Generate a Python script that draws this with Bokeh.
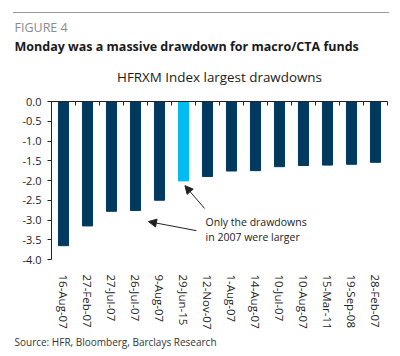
from bokeh.plotting import figure
from bokeh.layouts import column
from bokeh.models import (Range1d, LinearAxis, FixedTicker, NumeralTickFormatter,
                          Label, Arrow, NormalHead, ColumnDataSource, Title, Div)
from bokeh.embed import file_html
from bokeh.resources import INLINE

dates = ["16-Aug-07", "27-Feb-07", "27-Jul-07", "26-Jul-07", "9-Aug-07", "29-Jun-15", "12-Nov-07",
         "1-Aug-07", "14-Aug-07", "10-Jul-07", "10-Aug-07", "15-Mar-11", "19-Sep-08", "28-Feb-07"]
drawdowns = [-3.65, -3.15, -2.78, -2.76, -2.50, -2.01, -1.90, -1.76, -1.75, -1.65, -1.62, -1.61, -1.59, -1.54]
highlight = "29-Jun-15"
y_ticks = [-4.0, -3.5, -3.0, -2.5, -2.0, -1.5, -1.0, -0.5, 0.0]

DARK = "#013A5E"
LIGHT = "#00BCF2"
FONT = "Open Sans"
W = 400

# thin grey rule at the very top
rule = Div(text="", width=376, height=1, margin=(12, 11, 0, 13),
           styles={"background-color": "#9a9a9a"})

n = len(dates)
centers = [i + 0.5 for i in range(n)]
colors = [LIGHT if d == highlight else DARK for d in dates]
src = ColumnDataSource(dict(x=centers, top=drawdowns, color=colors, date=dates))

p = figure(width=W, height=343, output_backend="svg", toolbar_location=None,
           x_range=Range1d(0, n), y_range=Range1d(-4.0, 0.0),
           min_border_left=51, min_border_right=13, min_border_top=88, min_border_bottom=97)
p.outline_line_color = None
p.grid.visible = False

p.vbar(x="x", top="top", bottom=0, width=0.42, color="color", source=src)

xa = p.xaxis[0]
xa.ticker = FixedTicker(ticks=centers)
xa.major_label_overrides = {c: d for c, d in zip(centers, dates)}
xa.axis_line_color = None
xa.major_tick_line_color = None
xa.minor_tick_line_color = None
xa.major_label_orientation = "vertical"
xa.major_label_standoff = 9
xa.major_label_text_font = FONT
xa.major_label_text_font_size = "11.5px"
xa.major_label_text_color = "#222222"

ya = p.yaxis[0]
ya.ticker = FixedTicker(ticks=y_ticks)
ya.formatter = NumeralTickFormatter(format="0.0")
ya.major_tick_out = 4
ya.major_tick_in = 0
ya.minor_tick_line_color = None
ya.axis_line_color = "#222222"
ya.major_tick_line_color = "#222222"
ya.major_label_standoff = 6
ya.major_label_text_font = FONT
ya.major_label_text_font_size = "11px"
ya.major_label_text_color = "#222222"

edges = list(range(n + 1))
top_axis = LinearAxis(ticker=FixedTicker(ticks=edges),
                      major_label_overrides={e: "" for e in edges})
top_axis.major_tick_in = 4
top_axis.major_tick_out = 0
top_axis.major_label_standoff = 0
top_axis.minor_tick_line_color = None
top_axis.axis_line_color = "#222222"
top_axis.major_tick_line_color = "#222222"
top_axis.major_label_text_font_size = "1px"
p.add_layout(top_axis, "above")

# header titles (first added sits closest to the plot)
p.add_layout(Title(text="HFRXM Index largest drawdowns", align="center", offset=-23,
                   vertical_align="top", text_font=FONT, text_font_size="13.4px",
                   text_font_style="normal", text_color="#1a1a1a", standoff=26.5), "above")
p.add_layout(Title(text="Monday was a massive drawdown for macro/CTA funds", align="left",
                   offset=-37, text_font=FONT, text_font_size="12.5px", text_font_style="bold",
                   text_color="#1a1a1a", standoff=0), "above")
p.add_layout(Title(text="FIGURE 4", align="left", offset=-37, text_font=FONT,
                   text_font_size="12.5px", text_font_style="normal", text_color="#8a8a8a",
                   standoff=0), "above")
p.add_layout(Title(text="Source: HFR, Bloomberg, Barclays Research", align="left", offset=-37,
                   text_font=FONT, text_font_size="10px", text_font_style="normal",
                   text_color="#333333", standoff=0), "below")

p.add_layout(Label(x=6.42, y=-3.04, text="Only the drawdowns", text_font=FONT,
                   text_font_size="10.5px", text_color="#222222", text_baseline="middle"))
p.add_layout(Label(x=6.42, y=-3.42, text="in 2007 were larger", text_font=FONT,
                   text_font_size="10.5px", text_color="#222222", text_baseline="middle"))
p.add_layout(Arrow(x_start=6.38, y_start=-2.71, x_end=5.56, y_end=-2.13,
                   line_color="#222222", line_width=1,
                   end=NormalHead(size=8, fill_color="#222222", line_color="#222222")))
p.add_layout(Arrow(x_start=6.04, y_start=-3.27, x_end=4.04, y_end=-3.04,
                   line_color="#222222", line_width=1,
                   end=NormalHead(size=8, fill_color="#222222", line_color="#222222")))

layout = column(rule, p, spacing=0)
open("out.html", "w").write(file_html(layout, INLINE))
